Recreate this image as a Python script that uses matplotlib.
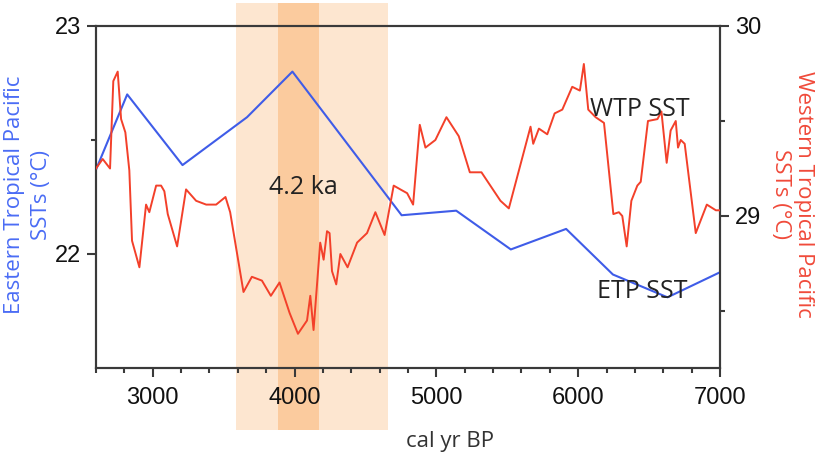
import numpy as np
import matplotlib
matplotlib.use('Agg')
import matplotlib.pyplot as plt
import matplotlib.transforms as mtransforms
from matplotlib.patches import Rectangle
from matplotlib.ticker import MultipleLocator, FixedLocator

# ETP SST (left axis)
etp_age = [2600, 2820, 3210, 3665, 3985, 4755, 5140, 5525, 5915, 6245, 6630, 7000]
etp_sst = [22.37, 22.70, 22.39, 22.60, 22.80, 22.17, 22.19, 22.02, 22.11, 21.91, 21.81, 21.92]

# WTP SST (right axis)
wtp_age = [2600, 2647, 2699, 2722, 2753, 2777, 2807, 2835, 2854, 2906, 2953, 2976,
           3024, 3059, 3082, 3106, 3172, 3235, 3306, 3377, 3447, 3513, 3546, 3640,
           3699, 3770, 3833, 3894, 3965, 4024, 4088, 4111, 4134, 4181, 4205, 4229,
           4247, 4264, 4294, 4323, 4374, 4441, 4511, 4570, 4635, 4699, 4746, 4794,
           4836, 4883, 4923, 4993, 5071, 5158, 5236, 5318, 5452, 5511, 5664, 5683,
           5723, 5782, 5834, 5888, 5958, 6012, 6040, 6071, 6123, 6182, 6248, 6287,
           6311, 6342, 6375, 6417, 6441, 6492, 6559, 6587, 6624, 6652, 6688, 6704,
           6723, 6751, 6829, 6907, 6971, 7000]
wtp_sst = [29.25, 29.30, 29.25, 29.71, 29.76, 29.51, 29.44, 29.24, 28.87, 28.73, 29.06, 29.02,
           29.16, 29.16, 29.13, 29.01, 28.84, 29.14, 29.08, 29.06, 29.06, 29.10, 29.02, 28.60,
           28.68, 28.66, 28.58, 28.65, 28.49, 28.38, 28.45, 28.58, 28.40, 28.86, 28.77, 28.92,
           28.91, 28.71, 28.64, 28.80, 28.73, 28.86, 28.91, 29.02, 28.90, 29.16, 29.14, 29.12,
           29.06, 29.48, 29.36, 29.40, 29.52, 29.42, 29.23, 29.23, 29.08, 29.04, 29.47, 29.38,
           29.46, 29.43, 29.54, 29.56, 29.68, 29.66, 29.80, 29.56, 29.52, 29.49, 29.01, 29.02,
           29.00, 28.84, 29.08, 29.16, 29.18, 29.50, 29.51, 29.55, 29.28, 29.45, 29.50, 29.36,
           29.40, 29.38, 28.91, 29.06, 29.03, 29.03]

# 4.2 ka event bands (cal yr BP)
band_outer = (3590, 4660)
band_inner = (3880, 4170)

blue = '#3f5ce8'
red = '#f3402a'
spine_col = '#3a3a3a'

fig = plt.figure(figsize=(8.24, 4.54), dpi=100)
ax = fig.add_axes([96 / 824, 1 - 368 / 454, 624 / 824, 342 / 454])
ax2 = ax.twinx()
ax.patch.set_visible(False)

# shaded bands, running past the axes top and bottom
trans = mtransforms.blended_transform_factory(ax.transData, fig.transFigure)
y0 = 1 - 430 / 454
y1 = 1 - 3 / 454
ax.add_artist(Rectangle((band_outer[0], y0), band_outer[1] - band_outer[0], y1 - y0,
                        transform=trans, facecolor='#fde6d0', edgecolor='none',
                        clip_on=False, zorder=0))
ax.add_artist(Rectangle((band_inner[0], y0), band_inner[1] - band_inner[0], y1 - y0,
                        transform=trans, facecolor='#fbcb9e', edgecolor='none',
                        clip_on=False, zorder=0.1))

ax.plot(etp_age, etp_sst, color=blue, lw=1.5, zorder=3)
ax2.plot(wtp_age, wtp_sst, color=red, lw=1.4, zorder=3)

ax.set_xlim(2600, 7000)
ax.set_ylim(21.5, 23)
ax2.set_ylim(28.2, 30)

ax.xaxis.set_major_locator(FixedLocator([3000, 4000, 5000, 6000, 7000]))
ax.xaxis.set_minor_locator(MultipleLocator(200))
ax.yaxis.set_major_locator(FixedLocator([22, 23]))
ax.yaxis.set_minor_locator(FixedLocator([22.5]))
ax2.yaxis.set_major_locator(FixedLocator([29, 30]))
ax2.yaxis.set_minor_locator(FixedLocator([28.5, 29.5]))

tick_font = 'Liberation Sans'
for a in (ax, ax2):
    for s in a.spines.values():
        s.set_color(spine_col)
        s.set_linewidth(1.5)
    a.tick_params(which='major', length=6.5, width=1.5, color=spine_col,
                  labelsize=17, direction='out', pad=4, labelfontfamily=tick_font,
                  labelcolor='#111111')
    a.tick_params(which='minor', length=3.5, width=1.5, color=spine_col, direction='out')

ax.tick_params(axis='x', pad=7)

lab_font = 'Open Sans'
fig.text(450 / 824, 1 - 442 / 454, 'cal yr BP', ha='center', va='center',
         fontsize=16, family=lab_font, color='#333333')
fig.text(28 / 824, 1 - 195 / 454, 'Eastern Tropical Pacific\nSSTs (°C)', rotation=90,
         ha='center', va='center', fontsize=16, family=lab_font, color='#4a6cf5',
         linespacing=1.35, multialignment='center')
fig.text(792 / 824, 1 - 194 / 454, 'Western Tropical Pacific\nSSTs (°C)', rotation=-90,
         ha='center', va='center', fontsize=16, family=lab_font, color='#f04a3a',
         linespacing=1.15, multialignment='center')

fig.text(303 / 824, 1 - 188 / 454, '4.2 ka', ha='center', va='center',
         fontsize=18, family=lab_font, color='#222222')
fig.text(640 / 824, 1 - 110 / 454, 'WTP SST', ha='center', va='center',
         fontsize=18, family=lab_font, color='#222222', zorder=5)
fig.text(642 / 824, 1 - 292 / 454, 'ETP SST', ha='center', va='center',
         fontsize=18, family=lab_font, color='#222222', zorder=5)

fig.savefig('out.png', dpi=100)
